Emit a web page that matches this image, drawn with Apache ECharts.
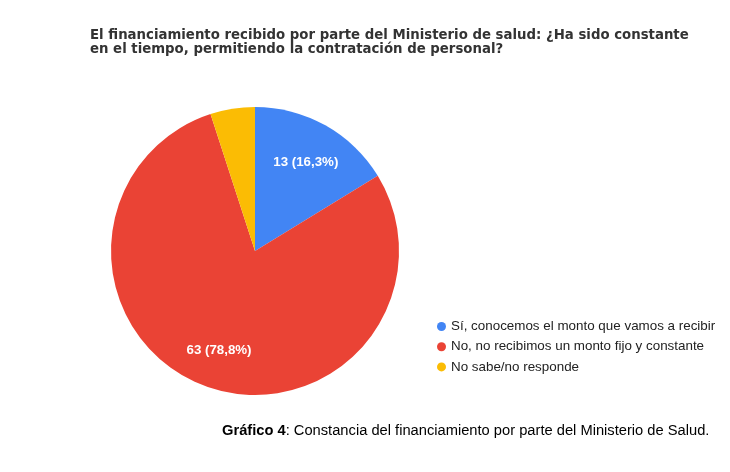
<!DOCTYPE html>
<html>
<head>
<meta charset="utf-8">
<script src="https://cdn.jsdelivr.net/npm/echarts@6/dist/echarts.min.js"></script>
<style>
  html, body { margin: 0; padding: 0; background: #fff; }
  #chart { width: 730px; height: 472px; }
</style>
</head>
<body>
<div id="chart"></div>
<script>
var categories = ['Sí, conocemos el monto que vamos a recibir', 'No, no recibimos un monto fijo y constante', 'No sabe/no responde'];
var values = [13, 63, 4];
var colors = ['#4285f4', '#ea4335', '#fbbc04'];
var showLabel = [true, true, false];

var myChart = echarts.init(document.getElementById('chart'));

var total = values.reduce(function (a, b) { return a + b; }, 0);

// slices
var pieData = categories.map(function (name, i) {
    return { name: name, value: values[i], itemStyle: { color: colors[i] } };
});
// transparent ring, only used to place labels further out like google charts
var labelData = categories.map(function (name, i) {
    return { name: name, value: values[i], label: { show: showLabel[i] } };
});

var option = {
    backgroundColor: '#fff',
    animation: false,
    title: [{
        text: 'El financiamiento recibido por parte del Ministerio de salud: ¿Ha sido constante\nen el tiempo, permitiendo la contratación de personal?',
        left: 90,
        top: 29,
        padding: 0,
        textStyle: {
            fontFamily: 'DejaVu Sans',
            fontWeight: 'bold',
            fontSize: 13.3,
            lineHeight: 14,
            color: '#333'
        }
    }, {
        text: '{b|Gráfico 4}: Constancia del financiamiento por parte del Ministerio de Salud.',
        left: 222,
        top: 423,
        padding: 0,
        textStyle: {
            fontFamily: 'Liberation Sans',
            fontWeight: 'normal',
            fontSize: 14.7,
            color: '#000',
            rich: {
                b: { fontFamily: 'Liberation Sans', fontWeight: 'bold', fontSize: 14.7, color: '#000' }
            }
        }
    }],
    legend: {
        orient: 'vertical',
        left: 437,
        top: 320,
        padding: 0,
        icon: 'circle',
        itemWidth: 9,
        itemHeight: 9,
        itemGap: 7.2,
        data: categories,
        textStyle: {
            fontFamily: 'Liberation Sans',
            fontSize: 13.4,
            color: '#222',
            width: 266,
            overflow: 'truncate',
            ellipsis: ''
        }
    },
    series: [{
        name: 'respuestas',
        type: 'pie',
        center: [255, 251],
        radius: 144,
        startAngle: 90,
        clockwise: true,
        label: { show: false },
        labelLine: { show: false },
        emphasis: { disabled: true },
        itemStyle: { borderColor: '#fff', borderWidth: 0 },
        data: pieData
    }, {
        name: 'etiquetas',
        type: 'pie',
        center: [255, 253],
        radius: [58, 144],
        startAngle: 90,
        clockwise: true,
        silent: true,
        z: 3,
        itemStyle: { color: 'rgba(0,0,0,0)' },
        label: {
            show: true,
            position: 'inside',
            fontFamily: 'Liberation Sans',
            fontWeight: 'bold',
            fontSize: 13.3,
            color: '#fff',
            formatter: function (p) {
                return p.value + ' (' + (p.value / total * 100).toFixed(1).replace('.', ',') + '%)';
            }
        },
        labelLine: { show: false },
        emphasis: { disabled: true },
        data: labelData
    }]
};

myChart.setOption(option);
</script>
</body>
</html>
